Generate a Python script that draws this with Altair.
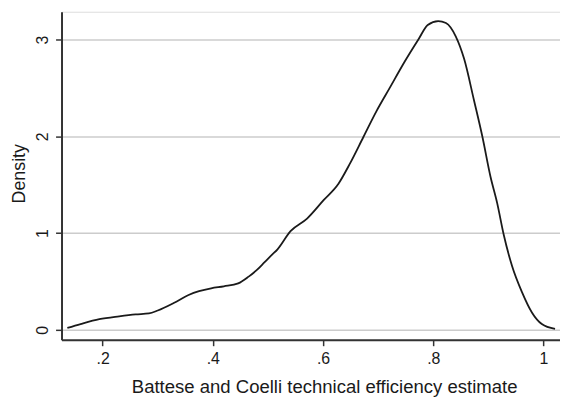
import altair as alt
import pandas as pd

eff = [0.136, 0.16, 0.194, 0.23, 0.26, 0.284, 0.30, 0.33, 0.356, 0.375, 0.397, 0.42,
       0.446, 0.465, 0.48, 0.494, 0.508, 0.517, 0.541, 0.571, 0.601, 0.628, 0.649,
       0.673, 0.697, 0.721, 0.748, 0.773, 0.790, 0.809, 0.823, 0.841, 0.856, 0.874,
       0.889, 0.904, 0.916, 0.928, 0.943, 0.961, 0.979, 0.997, 1.021]
dens = [0.02, 0.06, 0.11, 0.14, 0.16, 0.17, 0.20, 0.28, 0.36, 0.40, 0.43, 0.45,
        0.48, 0.55, 0.62, 0.70, 0.78, 0.83, 1.02, 1.15, 1.34, 1.51, 1.72,
        1.99, 2.26, 2.50, 2.77, 3.0, 3.15, 3.19, 3.17, 3.03, 2.80, 2.37,
        2.0, 1.58, 1.31, 0.98, 0.66, 0.39, 0.18, 0.06, 0.01]
x_ticks = [0.2, 0.4, 0.6, 0.8, 1.0]
y_ticks = [0, 1, 2, 3]

df = pd.DataFrame({"eff": eff, "dens": dens})

font = "Liberation Sans"

chart = alt.Chart(df).mark_line(color="#1a1a1a", strokeWidth=1.8, interpolate="monotone").encode(
    x=alt.X("eff:Q",
            scale=alt.Scale(domain=[0.1254, 1.03], nice=False, zero=False),
            axis=alt.Axis(values=x_ticks, grid=False,
                          labelExpr="datum.value == 1 ? '1' : replace(format(datum.value, '.1f'), '0.', '.')",
                          title="Battese and Coelli technical efficiency estimate",
                          titleX=265, titleY=47, titleBaseline="middle", titleAlign="center",
                          titleFontSize=18.7, titleFontWeight="normal", titleColor="#1a1a1a",
                          labelFontSize=16, labelColor="#1a1a1a", labelPadding=5,
                          tickSize=6, tickColor="#333333", tickWidth=1.5,
                          domainColor="#333333", domainWidth=2)),
    y=alt.Y("dens:Q",
            scale=alt.Scale(domain=[-0.102, 3.287], nice=False, zero=False),
            axis=alt.Axis(values=y_ticks, grid=True, gridColor="#cccccc", gridWidth=1.5,
                          format="d", labelAngle=-90, labelAlign="center", labelBaseline="middle",
                          labelPadding=13,
                          title="Density", titleX=-42, titleY=163, titleAngle=-90,
                          titleBaseline="middle", titleAlign="center",
                          titleFontSize=18, titleFontWeight="normal", titleColor="#1a1a1a",
                          labelFontSize=16, labelColor="#1a1a1a",
                          tickSize=6, tickColor="#333333", tickWidth=1.5,
                          domainColor="#333333", domainWidth=2)),
).properties(
    width=503, height=331,
    autosize=alt.AutoSizeParams(type="none"),
    padding={"left": 54, "top": 2, "right": 0, "bottom": 57},
).configure_view(stroke=None).configure(font=font)

chart.save("out.html", embed_options={"renderer": "svg", "actions": False})
